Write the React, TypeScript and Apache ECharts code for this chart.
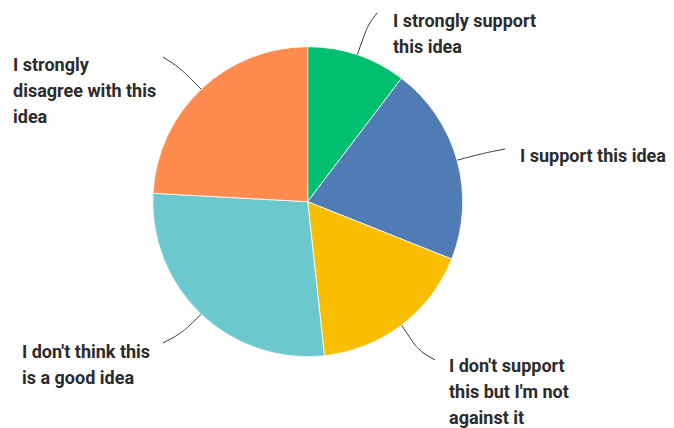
import React, { useEffect, useRef } from "react";
import * as echarts from "echarts";

const categories = [
  "I strongly support this idea",
  "I support this idea",
  "I don't support this but I'm not against it",
  "I don't think this is a good idea",
  "I strongly disagree with this idea",
];
const labelTexts = [
  "I strongly support\nthis idea",
  "I support this idea",
  "I don't support\nthis but I'm not\nagainst it",
  "I don't think this\nis a good idea",
  "I strongly\ndisagree with this\nidea",
];
const values = [3, 6, 5, 8, 7];
const colors = ["#00BF6F", "#507CB6", "#F9BE00", "#6BC8CD", "#FF8B4F"];

// label block top-left positions and leader line (mid, end) points
const labelPos = [
  [393, 7],
  [520, 142],
  [449, 352],
  [22, 338],
  [13, 51],
];
const lineMid = [
  [368, 25],
  [480, 154],
  [418, 350],
  [182, 333],
  [180, 68],
];
const lineEnd = [
  [377, 13],
  [505, 149],
  [435, 360],
  [163, 343],
  [163, 57],
];

export default function App() {
  const ref = useRef<HTMLDivElement>(null);
  useEffect(() => {
    if (!ref.current) return;
    const chart = echarts.init(ref.current, null, { renderer: "svg" });
    chart.setOption({
      animation: false,
      backgroundColor: "#ffffff",
      series: [
        {
          type: "pie",
          center: [307.7, 201.7],
          radius: 155,
          startAngle: 90,
          clockwise: true,
          data: categories.map((name, i) => ({
            name,
            value: values[i],
            itemStyle: { color: colors[i] },
          })),
          itemStyle: { borderColor: "#ffffff", borderWidth: 0.8 },
          label: {
            show: true,
            position: "outside",
            formatter: (p: any) => labelTexts[p.dataIndex],
            fontFamily: "Roboto",
            fontWeight: "bold",
            fontSize: 18,
            lineHeight: 26,
            color: "#2b2b2b",
            align: "left",
          },
          labelLine: {
            show: true,
            smooth: 0.3,
            lineStyle: { color: "#333333", width: 1 },
          },
          labelLayout: (params: any) => {
            const i = params.dataIndex;
            const start = params.labelLinePoints
              ? params.labelLinePoints[0]
              : lineMid[i];
            return {
              x: labelPos[i][0],
              y: labelPos[i][1],
              align: "left",
              verticalAlign: "top",
              labelLinePoints: [start, lineMid[i], lineEnd[i]],
            };
          },
          emphasis: { disabled: true },
        },
      ],
    });
    return () => chart.dispose();
  }, []);
  return (
    <div
      ref={ref}
      style={{ position: "fixed", left: 0, top: 0, width: 674, height: 428 }}
    />
  );
}
